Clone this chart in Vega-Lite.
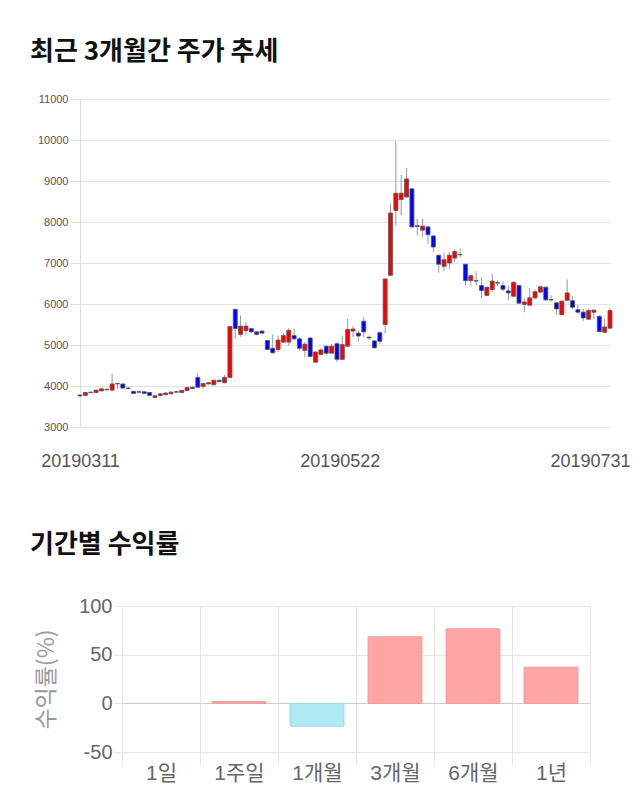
{
  "$schema": "https://vega.github.io/schema/vega-lite/v6.json",
  "padding": {"left": 30, "top": 39, "right": 0, "bottom": 0},
  "background": "white",
  "config": {
    "view": {"stroke": null},
    "font": "Liberation Sans, Noto Sans CJK KR",
    "title": {"font": "Noto Sans CJK KR", "fontSize": 26, "fontWeight": "bold", "color": "#111111", "anchor": "start", "frame": "group"}
  },
  "spacing": 62,
  "vconcat": [
    {
      "title": {"text": "최근 3개월간 주가 추세", "offset": 28, "dx": -50},
      "width": 530,
      "height": 328,
      "data": {"values": [
        {"d":"20190311","o":3780,"c":3760,"h":3800,"l":3740},
        {"d":"20190312","o":3770,"c":3840,"h":3860,"l":3750},
        {"d":"20190313","o":3850,"c":3840,"h":3870,"l":3820},
        {"d":"20190314","o":3840,"c":3900,"h":3910,"l":3830},
        {"d":"20190315","o":3880,"c":3930,"h":3950,"l":3870},
        {"d":"20190318","o":3920,"c":3910,"h":3940,"l":3890},
        {"d":"20190319","o":3900,"c":4050,"h":4300,"l":3880},
        {"d":"20190320","o":4060,"c":4050,"h":4080,"l":3930},
        {"d":"20190321","o":4050,"c":3950,"h":4060,"l":3940},
        {"d":"20190322","o":3950,"c":3940,"h":3970,"l":3910},
        {"d":"20190325","o":3870,"c":3820,"h":3880,"l":3810},
        {"d":"20190326","o":3860,"c":3850,"h":3890,"l":3820},
        {"d":"20190327","o":3860,"c":3820,"h":3870,"l":3810},
        {"d":"20190328","o":3840,"c":3770,"h":3850,"l":3760},
        {"d":"20190329","o":3720,"c":3760,"h":3780,"l":3700},
        {"d":"20190401","o":3770,"c":3810,"h":3820,"l":3760},
        {"d":"20190402","o":3790,"c":3830,"h":3840,"l":3770},
        {"d":"20190403","o":3810,"c":3850,"h":3870,"l":3800},
        {"d":"20190404","o":3860,"c":3850,"h":3880,"l":3840},
        {"d":"20190405","o":3840,"c":3890,"h":3900,"l":3830},
        {"d":"20190408","o":3890,"c":3960,"h":3980,"l":3870},
        {"d":"20190409","o":3970,"c":3940,"h":3990,"l":3930},
        {"d":"20190410","o":4210,"c":3970,"h":4300,"l":3960},
        {"d":"20190411","o":3990,"c":4060,"h":4080,"l":3930},
        {"d":"20190412","o":4050,"c":4080,"h":4100,"l":4040},
        {"d":"20190415","o":4030,"c":4140,"h":4150,"l":4020},
        {"d":"20190416","o":4140,"c":4110,"h":4160,"l":4100},
        {"d":"20190417","o":4080,"c":4210,"h":4270,"l":4070},
        {"d":"20190418","o":4210,"c":5450,"h":5460,"l":4200},
        {"d":"20190419","o":5870,"c":5400,"h":5880,"l":5150},
        {"d":"20190422","o":5260,"c":5460,"h":5720,"l":5200},
        {"d":"20190423","o":5350,"c":5460,"h":5560,"l":5250},
        {"d":"20190424","o":5400,"c":5320,"h":5420,"l":5300},
        {"d":"20190425","o":5320,"c":5260,"h":5340,"l":5240},
        {"d":"20190426","o":5340,"c":5290,"h":5350,"l":5280},
        {"d":"20190429","o":5110,"c":4890,"h":5130,"l":4870},
        {"d":"20190430","o":4920,"c":4810,"h":5260,"l":4790},
        {"d":"20190502","o":4890,"c":5120,"h":5230,"l":4830},
        {"d":"20190503","o":5070,"c":5230,"h":5290,"l":5050},
        {"d":"20190507","o":5070,"c":5360,"h":5410,"l":4990},
        {"d":"20190508","o":5230,"c":5150,"h":5400,"l":5110},
        {"d":"20190509","o":5150,"c":4920,"h":5190,"l":4870},
        {"d":"20190510","o":4870,"c":5020,"h":5070,"l":4700},
        {"d":"20190513","o":5170,"c":4720,"h":5190,"l":4700},
        {"d":"20190514","o":4580,"c":4830,"h":4840,"l":4570},
        {"d":"20190515","o":4770,"c":4880,"h":4920,"l":4750},
        {"d":"20190516","o":4970,"c":4800,"h":4990,"l":4750},
        {"d":"20190517","o":4800,"c":4970,"h":5030,"l":4790},
        {"d":"20190520","o":5030,"c":4650,"h":5070,"l":4580},
        {"d":"20190521","o":4650,"c":5010,"h":5230,"l":4640},
        {"d":"20190522","o":4970,"c":5380,"h":5640,"l":4960},
        {"d":"20190523","o":5340,"c":5390,"h":5460,"l":5190},
        {"d":"20190524","o":5290,"c":5220,"h":5350,"l":5090},
        {"d":"20190527","o":5580,"c":5320,"h":5680,"l":5190},
        {"d":"20190528","o":5190,"c":5170,"h":5230,"l":5130},
        {"d":"20190529","o":5100,"c":4930,"h":5110,"l":4920},
        {"d":"20190530","o":5300,"c":5090,"h":5340,"l":5030},
        {"d":"20190531","o":5500,"c":6610,"h":6620,"l":5280},
        {"d":"20190603","o":6700,"c":8220,"h":8450,"l":6690},
        {"d":"20190604","o":8280,"c":8700,"h":9970,"l":7900},
        {"d":"20190605","o":8550,"c":8700,"h":9150,"l":8160},
        {"d":"20190607","o":8610,"c":9050,"h":9320,"l":8600},
        {"d":"20190610","o":8810,"c":7880,"h":8820,"l":7870},
        {"d":"20190611","o":7910,"c":7890,"h":8080,"l":7670},
        {"d":"20190612","o":7800,"c":7900,"h":8080,"l":7630},
        {"d":"20190613","o":7880,"c":7690,"h":7900,"l":7470},
        {"d":"20190614","o":7660,"c":7390,"h":7670,"l":7270},
        {"d":"20190617","o":7190,"c":6970,"h":7200,"l":6760},
        {"d":"20190618","o":6920,"c":7080,"h":7250,"l":6800},
        {"d":"20190619","o":7000,"c":7190,"h":7270,"l":6860},
        {"d":"20190620","o":7120,"c":7280,"h":7330,"l":7020},
        {"d":"20190621","o":7210,"c":7200,"h":7350,"l":7130},
        {"d":"20190624","o":6970,"c":6570,"h":6980,"l":6450},
        {"d":"20190625","o":6570,"c":6690,"h":6700,"l":6440},
        {"d":"20190626","o":6570,"c":6560,"h":6800,"l":6450},
        {"d":"20190627","o":6450,"c":6330,"h":6660,"l":6140},
        {"d":"20190628","o":6210,"c":6410,"h":6420,"l":6200},
        {"d":"20190701","o":6350,"c":6560,"h":6740,"l":6290},
        {"d":"20190702","o":6520,"c":6510,"h":6580,"l":6440},
        {"d":"20190703","o":6450,"c":6360,"h":6550,"l":6310},
        {"d":"20190704","o":6320,"c":6270,"h":6450,"l":6090},
        {"d":"20190705","o":6190,"c":6530,"h":6540,"l":6180},
        {"d":"20190708","o":6450,"c":6020,"h":6460,"l":6010},
        {"d":"20190709","o":5990,"c":6050,"h":6140,"l":5800},
        {"d":"20190710","o":5970,"c":6150,"h":6390,"l":5960},
        {"d":"20190711","o":6150,"c":6300,"h":6350,"l":6110},
        {"d":"20190712","o":6290,"c":6420,"h":6430,"l":6280},
        {"d":"20190715","o":6410,"c":6100,"h":6420,"l":6090},
        {"d":"20190716","o":6110,"c":6100,"h":6210,"l":6060},
        {"d":"20190717","o":6030,"c":5880,"h":6040,"l":5740},
        {"d":"20190718","o":5740,"c":6070,"h":6080,"l":5730},
        {"d":"20190719","o":6090,"c":6270,"h":6600,"l":6080},
        {"d":"20190722","o":6080,"c":5920,"h":6190,"l":5880},
        {"d":"20190723","o":5860,"c":5800,"h":5980,"l":5750},
        {"d":"20190724","o":5800,"c":5660,"h":5880,"l":5580},
        {"d":"20190725","o":5630,"c":5840,"h":5880,"l":5620},
        {"d":"20190726","o":5800,"c":5850,"h":5870,"l":5640},
        {"d":"20190729","o":5700,"c":5330,"h":5710,"l":5320},
        {"d":"20190730","o":5310,"c":5440,"h":5640,"l":5300},
        {"d":"20190731","o":5410,"c":5840,"h":5900,"l":5400}
      ]},
      "encoding": {
        "x": {
          "field": "d", "type": "ordinal",
          "scale": {"type": "point", "padding": 0},
          "axis": {
            "values": ["20190311", "20190522", "20190731"],
            "title": null, "labelAngle": 0, "labelFontSize": 18, "labelColor": "#555555",
            "ticks": false, "domain": false, "grid": false, "labelPadding": 25,
            "labelOffset": {"condition": [{"test": "datum.value == '20190731'", "value": -20}, {"test": "datum.value == '20190522'", "value": -8}], "value": 0}
          }
        }
      },
      "layer": [
        {
          "mark": {"type": "rule", "color": "#999999", "strokeWidth": 1},
          "encoding": {
            "y": {
              "field": "l", "type": "quantitative",
              "scale": {"domain": [3000, 11000], "nice": false, "zero": false},
              "axis": {
                "values": [3000, 4000, 5000, 6000, 7000, 8000, 9000, 10000, 11000],
                "format": "d", "title": null, "labelFontSize": 11, "labelColor": "#555555",
                "tickSize": 10, "tickColor": "#dddddd", "gridColor": "#e3e3e3",
                "domainColor": "#dddddd", "labelPadding": 2
              }
            },
            "y2": {"field": "h"}
          }
        },
        {
          "mark": {"type": "bar", "size": 4, "stroke": "#555555", "strokeWidth": 0.8},
          "encoding": {
            "y": {"field": "o", "type": "quantitative"},
            "y2": {"field": "c"},
            "fill": {"condition": {"test": "datum.c >= datum.o", "value": "#ff0000"}, "value": "#0000ff"}
          }
        }
      ]
    },
    {
      "title": {"text": "기간별 수익률", "offset": 38, "dx": -50},
      "width": 510,
      "height": 146,
      "data": {"values": [
        {"p": "1일", "v": 0},
        {"p": "1주일", "v": 1.7},
        {"p": "1개월", "v": -23.5},
        {"p": "3개월", "v": 68.3},
        {"p": "6개월", "v": 76.5},
        {"p": "1년", "v": 37.2}
      ]},
      "mark": {"type": "bar", "strokeWidth": 1, "width": {"band": 0.69}},
      "encoding": {
        "x": {
          "field": "p", "type": "nominal", "sort": null,
          "scale": {"range": [42, 510], "paddingInner": 0, "paddingOuter": 0},
          "axis": {
            "title": null, "labelAngle": 0, "labelFontSize": 21, "labelColor": "#666666",
            "tickBand": "extent", "grid": true, "gridColor": "#e6e6e6", "tickColor": "#e6e6e6",
            "tickSize": 12, "domain": false, "labelPadding": -2
          }
        },
        "y": {
          "field": "v", "type": "quantitative",
          "scale": {"domain": [-50, 100], "nice": false},
          "axis": {
            "values": [-50, 0, 50, 100], "labelExpr": "'' + datum.value",
            "title": "수익률(%)", "titleFontSize": 23,
            "titleColor": "#999999", "titleFontWeight": "normal", "titleFont": "Noto Sans CJK KR",
            "labelFontSize": 20, "labelColor": "#666666", "tickSize": 8, "tickColor": "#e6e6e6",
            "gridColor": {"condition": {"test": "datum.value === 0", "value": "#cccccc"}, "value": "#e6e6e6"},
            "domain": false, "labelPadding": 2, "titlePadding": 20, "offset": -42
          }
        },
        "fill": {"condition": {"test": "datum.v < 0", "value": "#aeeaf2"}, "value": "#ffa5a5"},
        "stroke": {"condition": {"test": "datum.v < 0", "value": "#9ed6e0"}, "value": "#f09a9a"},
        "strokeOpacity": {"condition": {"test": "datum.v === 0", "value": 0}, "value": 1}
      }
    }
  ]
}
